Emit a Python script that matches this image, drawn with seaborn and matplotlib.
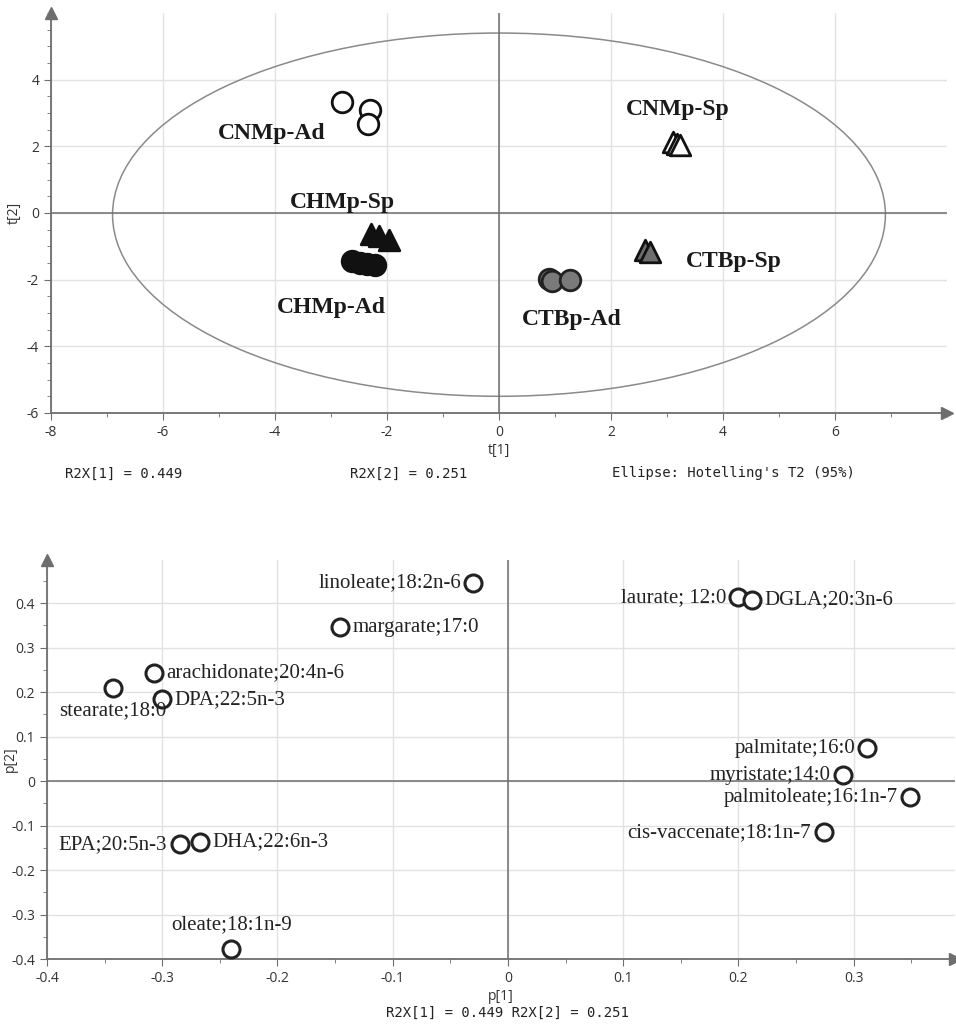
import numpy as np
import pandas as pd
import matplotlib
matplotlib.use("Agg")
import matplotlib.pyplot as plt
from matplotlib.patches import Ellipse
from matplotlib.ticker import MultipleLocator, FixedLocator, FuncFormatter
import seaborn as sns

# score plot data (t[1], t[2])
groups = ["CNMp-Ad", "CNMp-Ad", "CNMp-Ad",
          "CHMp-Sp", "CHMp-Sp", "CHMp-Sp",
          "CHMp-Ad", "CHMp-Ad", "CHMp-Ad", "CHMp-Ad",
          "CNMp-Sp", "CNMp-Sp", "CNMp-Sp",
          "CTBp-Sp", "CTBp-Sp",
          "CTBp-Ad", "CTBp-Ad", "CTBp-Ad"]
t1 = [-2.80, -2.30, -2.34,
      -2.28, -2.15, -1.97,
      -2.62, -2.48, -2.35, -2.22,
      3.10, 3.17, 3.24,
      2.60, 2.70,
      0.90, 0.95, 1.27]
t2 = [3.32, 3.09, 2.67,
      -0.62, -0.68, -0.80,
      -1.45, -1.50, -1.52, -1.55,
      2.12, 2.08, 2.05,
      -1.12, -1.18,
      -1.98, -2.05, -2.00]

# loading plot data (p[1], p[2])
fatty_acids = ["linoleate;18:2n-6", "margarate;17:0", "arachidonate;20:4n-6",
               "stearate;18:0", "DPA;22:5n-3", "EPA;20:5n-3", "DHA;22:6n-3",
               "oleate;18:1n-9", "laurate; 12:0", "DGLA;20:3n-6",
               "palmitate;16:0", "myristate;14:0", "palmitoleate;16:1n-7",
               "cis-vaccenate;18:1n-7"]
p1 = [-0.030, -0.146, -0.307, -0.343, -0.300, -0.285, -0.267,
      -0.240, 0.200, 0.212, 0.312, 0.291, 0.349, 0.274]
p2 = [0.445, 0.346, 0.243, 0.209, 0.184, -0.142, -0.137,
      -0.377, 0.413, 0.407, 0.074, 0.013, -0.036, -0.115]

scores = pd.DataFrame({"group": groups, "t1": t1, "t2": t2})
loadings = pd.DataFrame({"name": fatty_acids, "p1": p1, "p2": p2})

# styles per group
group_style = {
    "CNMp-Ad": dict(marker="o", facecolor="white", edgecolor="#111111"),
    "CHMp-Sp": dict(marker="^", facecolor="#111111", edgecolor="#111111"),
    "CHMp-Ad": dict(marker="o", facecolor="#111111", edgecolor="#111111"),
    "CNMp-Sp": dict(marker="^", facecolor="white", edgecolor="#111111"),
    "CTBp-Sp": dict(marker="^", facecolor="#6e6e6e", edgecolor="#111111"),
    "CTBp-Ad": dict(marker="o", facecolor="#7a7a7a", edgecolor="#222222"),
}
group_label_pos = {
    "CNMp-Ad": (-4.05, 2.4), "CHMp-Sp": (-2.8, 0.33), "CHMp-Ad": (-3.0, -2.85),
    "CNMp-Sp": (3.2, 3.1), "CTBp-Sp": (4.2, -1.45), "CTBp-Ad": (1.3, -3.2),
}
# label placement for loadings: (dx, dy) in points, horizontal alignment
load_label_pos = {
    "linoleate;18:2n-6": (-9, 0, "right"), "margarate;17:0": (9, 0, "left"),
    "arachidonate;20:4n-6": (9, 0, "left"), "stearate;18:0": (0, -16, "center"),
    "DPA;22:5n-3": (9, 0, "left"), "EPA;20:5n-3": (-9, 0, "right"),
    "DHA;22:6n-3": (9, 0, "left"), "oleate;18:1n-9": (0, 17, "center"),
    "laurate; 12:0": (-9, 0, "right"), "DGLA;20:3n-6": (9, 0, "left"),
    "palmitate;16:0": (-9, 0, "right"), "myristate;14:0": (-9, 0, "right"),
    "palmitoleate;16:1n-7": (-9, 0, "right"), "cis-vaccenate;18:1n-7": (-9, 0, "right"),
}

sns.set_style("white")
plt.rcParams["font.family"] = ["Open Sans", "DejaVu Sans"]
plt.rcParams["axes.unicode_minus"] = False
axis_col = "#6e6e6e"
grid_col = "#e2e2e2"

fig = plt.figure(figsize=(9.56, 10.27), dpi=100)
ax1 = fig.add_axes([0.0533, 0.5979, 0.9373, 0.3894])
ax2 = fig.add_axes([0.0492, 0.0662, 0.9498, 0.3885])

fmt = FuncFormatter(lambda v, pos: "%g" % round(v, 3))


def style_axes(ax, xmaj, xmin, ymaj, ymin):
    ax.xaxis.set_major_locator(FixedLocator(xmaj))
    ax.xaxis.set_minor_locator(MultipleLocator(xmin))
    ax.yaxis.set_major_locator(FixedLocator(ymaj))
    ax.yaxis.set_minor_locator(MultipleLocator(ymin))
    ax.xaxis.set_major_formatter(fmt)
    ax.yaxis.set_major_formatter(fmt)
    for s in ["top", "right"]:
        ax.spines[s].set_visible(False)
    for s in ["left", "bottom"]:
        ax.spines[s].set_color(axis_col)
        ax.spines[s].set_linewidth(1.3)
    ax.tick_params(which="both", direction="out", color=axis_col, labelsize=10,
                   labelcolor="#333333", bottom=True, left=True)
    ax.tick_params(which="major", length=5)
    ax.tick_params(which="minor", length=3)
    ax.grid(True, which="major", color=grid_col, lw=1)
    ax.set_axisbelow(True)
    ax.axhline(0, color=axis_col, lw=1.1, zorder=1)
    ax.axvline(0, color=axis_col, lw=1.1, zorder=1)
    ax.plot(1, 0, ">", color=axis_col, ms=9, transform=ax.transAxes, clip_on=False)
    ax.plot(0, 1, "^", color=axis_col, ms=9, transform=ax.transAxes, clip_on=False)


# ---- score plot ----
ax1.add_patch(Ellipse((0, -0.05), 13.8, 10.9, fill=False, edgecolor="#8a8a8a", lw=1.1, zorder=1))
for g, st in group_style.items():
    sub = scores[scores.group == g]
    sns.scatterplot(data=sub, x="t1", y="t2", ax=ax1, marker=st["marker"],
                    color=st["facecolor"], edgecolor=st["edgecolor"],
                    linewidth=2, s=220, zorder=3, legend=False)
    lx, ly = group_label_pos[g]
    ax1.text(lx, ly, g, ha="center", va="center", fontsize=17, fontweight="bold",
             family="Liberation Serif", color="#1a1a1a")
ax1.set_xlim(-8, 8)
ax1.set_ylim(-6, 6)
style_axes(ax1, [-8, -6, -4, -2, 0, 2, 4, 6], 1, [-6, -4, -2, 0, 2, 4], 0.5)
ax1.set_xlabel("t[1]", fontsize=10, color="#333333", labelpad=2)
ax1.set_ylabel("t[2]", fontsize=10, color="#333333", labelpad=4)
fig.text(0.068, 0.539, "R2X[1] = 0.449", family="DejaVu Sans Mono", fontsize=10, color="#222222", va="center")
fig.text(0.366, 0.539, "R2X[2] = 0.251", family="DejaVu Sans Mono", fontsize=10, color="#222222", va="center")
fig.text(0.64, 0.539, "Ellipse: Hotelling's T2 (95%)", family="DejaVu Sans Mono", fontsize=10, color="#222222", va="center")

# ---- loading plot ----
sns.scatterplot(data=loadings, x="p1", y="p2", ax=ax2, marker="o", color="white",
                edgecolor="#222222", linewidth=2.2, s=150, zorder=3, legend=False)
for name, x, y in zip(fatty_acids, p1, p2):
    dx, dy, ha = load_label_pos[name]
    ax2.annotate(name, (x, y), xytext=(dx, dy), textcoords="offset points",
                 ha=ha, va="center", fontsize=15, family="Liberation Serif", color="#222222")
ax2.set_xlim(-0.4, 0.388)
ax2.set_ylim(-0.4, 0.497)
style_axes(ax2, [-0.4, -0.3, -0.2, -0.1, 0, 0.1, 0.2, 0.3], 0.05,
           [-0.4, -0.3, -0.2, -0.1, 0, 0.1, 0.2, 0.3, 0.4], 0.05)
ax2.set_xlabel("p[1]", fontsize=10, color="#333333", labelpad=2)
ax2.set_ylabel("p[2]", fontsize=10, color="#333333")
ax2.yaxis.set_label_coords(-0.032, 0.5)
fig.text(0.531, 0.007, "R2X[1] = 0.449 R2X[2] = 0.251", family="DejaVu Sans Mono",
         fontsize=10, color="#222222", ha="center", va="bottom")

fig.savefig("out.png", dpi=100)
